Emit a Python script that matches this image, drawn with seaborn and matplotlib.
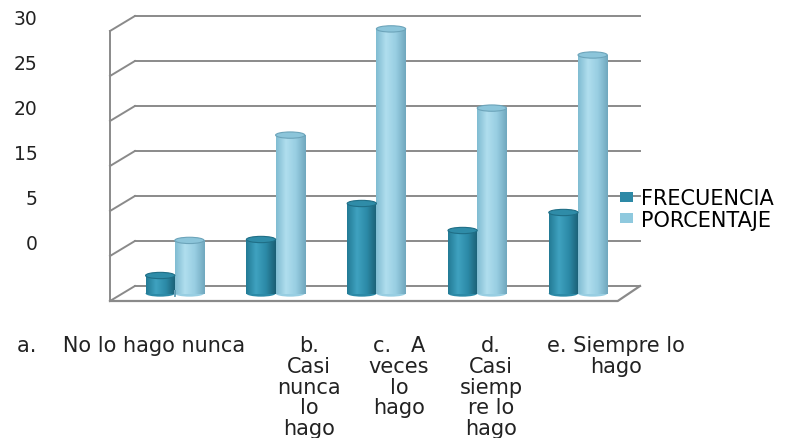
import numpy as np
import pandas as pd
import seaborn as sns
import matplotlib.pyplot as plt
import matplotlib.transforms as mtransforms
from matplotlib.colors import LinearSegmentedColormap, to_rgba
from matplotlib.patches import Ellipse

# datos
categorias = ["a", "b", "c", "d", "e"]
etiquetas = [
    "a.    No lo hago nunca",
    "b.\nCasi\nnunca\nlo\nhago",
    "c.   A\nveces\nlo\nhago",
    "d.\nCasi\nsiemp\nre lo\nhago",
    "e. Siempre lo\nhago",
]
frecuencia = [2, 6, 10, 7, 9]
porcentaje = [5.9, 17.6, 29.4, 20.6, 26.5]
series = ["FRECUENCIA", "PORCENTAJE"]
grid_values = [0, 5, 10, 15, 20, 25, 30]
ytick_values = [30, 25, 20, 15, 10, 5]
ytick_labels = ["30", "25", "20", "15", "5", "0"]

colores = {"FRECUENCIA": "#2D89A6", "PORCENTAJE": "#8FC9DE"}
gradientes = {
    "FRECUENCIA": ["#237A95", "#3FA2C0", "#2C8AA7", "#1A5E74"],
    "PORCENTAJE": ["#80BCD2", "#B0DEEE", "#98CEE2", "#70A8BE"],
}
tapas = {"FRECUENCIA": ("#2F8CA8", "#1F6E86"), "PORCENTAJE": ("#8CC5DA", "#6CA4BA")}

df = pd.DataFrame({
    "categoria": categorias * 2,
    "valor": frecuencia + porcentaje,
    "serie": [series[0]] * len(categorias) + [series[1]] * len(categorias),
})

W, H = 802, 439
fig = plt.figure(figsize=(W / 100, H / 100), dpi=100)
ax = fig.add_axes([110 / W, (H - 302) / H, 530 / W, 285 / H])

sns.barplot(data=df, x="categoria", y="valor", hue="serie", palette=colores,
            width=0.58, gap=0, saturation=1, linewidth=0, ax=ax, zorder=3)

d = 0.833       # "profundidad" del piso en unidades de datos
back_x = 0.047  # inicio del plano trasero (fraccion de ejes)
front_end = 0.958

# sombreado cilindrico
for serie in series:
    cmap = LinearSegmentedColormap.from_list(serie, gradientes[serie])
    fc = to_rgba(colores[serie])
    for bar in ax.patches:
        if not np.allclose(bar.get_facecolor(), fc):
            continue
        x0, w, h = bar.get_x(), bar.get_width(), bar.get_height()
        cx = x0 + w / 2
        ax.add_patch(Ellipse((cx, 0), w, 0.7, facecolor=gradientes[serie][2],
                             edgecolor="none", zorder=2.9))
        im = ax.imshow(np.linspace(0, 1, 64)[np.newaxis, :], extent=(x0, x0 + w, 0, h),
                       cmap=cmap, aspect="auto", zorder=3.5)
        im.set_clip_path(bar)
        ax.add_patch(Ellipse((cx, h), w, 0.7, facecolor=tapas[serie][0],
                             edgecolor=tapas[serie][1], linewidth=0.8, zorder=4))

# lineas de division con efecto 3D
trans = mtransforms.blended_transform_factory(ax.transAxes, ax.transData)
gris = "#8A8A8A"
for g in grid_values:
    ax.plot([back_x, 1.0], [g + d, g + d], color=gris, lw=1.4, transform=trans,
            clip_on=False, zorder=1)
    ax.plot([0, back_x], [g - d, g + d], color=gris, lw=1.4, transform=trans,
            clip_on=False, zorder=1)
ax.plot([0, front_end, 1.0], [-d, -d, d], color=gris, lw=1.6, transform=trans,
        clip_on=False, zorder=5)
ax.plot([0, 0], [-d, grid_values[-1] - d], color=gris, lw=1.4, transform=trans,
        clip_on=False, zorder=1)

ax.set_xlim(-0.643, 4.615)
ax.set_ylim(-d, grid_values[-1] + d)
sns.despine(ax=ax, left=True, bottom=True)
ax.set_xlabel("")
ax.set_ylabel("")
ax.set_xticks([])
ax.set_yticks(np.array(ytick_values) + d)
ax.set_yticklabels(ytick_labels, fontsize=13.5, color="#222222")
ax.tick_params(axis="y", length=0, pad=52)

# leyenda
handles, labels = ax.get_legend_handles_labels()
ax.legend(handles, labels, loc="center left", bbox_to_anchor=(620 / W, 1 - 210 / H),
          bbox_transform=fig.transFigure, frameon=False, fontsize=15,
          handlelength=0.6, handleheight=0.3, handletextpad=0.4,
          labelspacing=0.05, borderpad=0, borderaxespad=0)

# etiquetas de categorias
pos_x = [17, 309, 399, 491, 616]
for i, (txt, px) in enumerate(zip(etiquetas, pos_x)):
    fig.text(px / W, 1 - 336 / H, txt, ha="left" if i == 0 else "center", va="top",
             fontsize=15, color="#222222", linespacing=1.05,
             multialignment="center")

fig.savefig("out.png", dpi=100)
